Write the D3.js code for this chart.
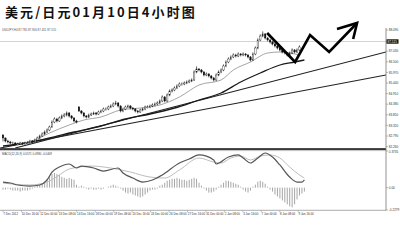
<!DOCTYPE html>
<html><head><meta charset="utf-8">
<script src="https://cdn.jsdelivr.net/npm/d3@7"></script>
<style>html,body{margin:0;padding:0;background:#fff;overflow:hidden}</style>
</head><body><svg id="c" width="400" height="246"></svg>
<script>
// ---------- DATA (USD/JPY H4) ----------
const titleText = "美元/日元01月10日4小时图";
const subtitleText = "USDJPY,H4  87.785 87.906 87.451 87.515";
const macdText = "MACD(12,26,9) 0.0571 0.0980 -0.0409";
const currentPrice = 87.515;

const opens = [82.84,82.69,82.54,82.49,82.44,82.44,82.39,82.39,82.44,82.39,
 82.44,82.44,82.54,82.49,82.59,82.69,82.79,82.89,82.99,83.09,
 83.24,83.49,83.64,83.54,83.69,83.79,83.84,83.94,83.79,83.69,
 83.54,84.24,84.04,83.94,83.79,83.74,83.84,83.89,83.94,83.89,
 83.99,84.04,84.14,84.14,84.24,84.29,84.39,84.44,84.29,84.04,
 84.14,84.24,84.29,84.19,84.14,84.04,83.99,84.09,84.14,84.24,
 84.24,84.29,84.34,84.39,84.44,84.54,84.74,84.54,84.84,85.04,
 85.09,85.19,85.29,85.39,85.39,85.44,85.49,85.54,85.59,85.99,
 86.14,86.09,85.99,85.84,85.89,85.79,85.69,85.59,85.84,85.99,
 86.09,86.29,86.49,86.64,86.74,86.84,86.79,86.89,86.84,86.89,
 86.84,86.74,86.59,86.89,87.19,87.59,87.79,87.89,87.69,87.59,
 87.49,87.39,87.29,87.19,87.09,86.99,86.94,86.84,86.94,87.09,
 86.99,87.09];
const closes = [82.69,82.54,82.49,82.44,82.44,82.39,82.39,82.44,82.39,82.44,
 82.44,82.54,82.49,82.59,82.69,82.79,82.89,82.99,83.09,83.24,
 83.49,83.64,83.54,83.69,83.79,83.84,83.94,83.79,83.69,83.54,
 83.49,84.04,83.94,83.79,83.74,83.84,83.89,83.94,83.89,83.99,
 84.04,84.14,84.14,84.24,84.29,84.39,84.44,84.29,84.04,84.14,
 84.24,84.29,84.19,84.14,84.04,83.99,84.09,84.14,84.24,84.24,
 84.29,84.34,84.39,84.44,84.54,84.74,84.54,84.84,85.04,85.09,
 85.19,85.29,85.39,85.39,85.44,85.49,85.54,85.59,85.99,86.14,
 86.09,85.99,85.84,85.89,85.79,85.69,85.59,85.84,85.99,86.09,
 86.29,86.49,86.64,86.74,86.84,86.79,86.89,86.84,86.89,86.84,
 86.74,86.59,86.89,87.19,87.59,87.79,87.89,87.69,87.59,87.49,
 87.39,87.29,87.19,87.09,86.99,86.94,86.84,86.94,87.09,86.99,
 87.09,87.24];
const highs = [82.88,82.72,82.60,82.55,82.51,82.49,82.46,82.50,82.49,82.51,
 82.52,82.60,82.59,82.66,82.76,82.86,82.97,83.07,83.17,83.31,
 83.57,83.72,83.70,83.77,83.87,83.93,84.02,83.99,83.84,83.74,
 83.60,84.29,84.09,83.99,83.84,83.91,83.96,84.01,83.99,84.06,
 84.11,84.21,84.22,84.31,84.37,84.47,84.55,84.49,84.33,84.21,
 84.31,84.36,84.34,84.24,84.19,84.09,84.16,84.21,84.31,84.32,
 84.36,84.42,84.47,84.52,84.62,84.82,84.79,84.92,85.12,85.17,
 85.27,85.37,85.47,85.47,85.52,85.57,85.62,85.67,86.07,86.27,
 86.19,86.14,86.04,85.97,85.94,85.84,85.74,85.92,86.07,86.17,
 86.37,86.57,86.72,86.82,86.92,86.90,86.97,86.94,86.97,86.94,
 86.89,86.79,86.97,87.27,87.67,87.87,88.02,87.94,87.74,87.64,
 87.54,87.44,87.34,87.24,87.14,87.04,86.99,87.01,87.17,87.14,
 87.17,87.32];
const lows = [82.52,82.47,82.42,82.37,82.36,82.32,82.33,82.35,82.33,82.35,
 82.37,82.40,82.42,82.45,82.55,82.64,82.74,82.84,82.93,83.03,
 83.20,83.43,83.47,83.49,83.63,83.72,83.77,83.72,83.62,83.47,
 83.42,83.99,83.87,83.72,83.67,83.69,83.79,83.84,83.82,83.84,
 83.93,83.98,84.06,84.08,84.18,84.23,84.33,84.22,83.97,83.98,
 84.08,84.18,84.12,84.07,83.97,83.92,83.94,84.03,84.08,84.17,
 84.18,84.23,84.28,84.33,84.38,84.48,84.47,84.49,84.78,84.97,
 85.03,85.13,85.23,85.31,85.33,85.38,85.43,85.48,85.54,85.93,
 86.02,85.92,85.77,85.78,85.72,85.62,85.52,85.54,85.78,85.93,
 86.03,86.23,86.43,86.58,86.68,86.72,86.73,86.77,86.78,86.77,
 86.67,86.52,86.54,86.83,87.13,87.53,87.73,87.62,87.52,87.42,
 87.32,87.22,87.12,87.02,86.92,86.87,86.77,86.78,86.88,86.92,
 86.93,87.03];

// moving averages read at bar positions
const maFastIdx = [7,13,19,27,33,40,48,56,64,72,80,89,94,101,108,113,117,121];
const maFastVal = [82.39,82.59,82.94,83.34,83.59,83.74,84.09,84.19,84.34,84.74,85.34,85.59,86.09,86.49,86.94,86.99,86.94,86.84];
const maSlowIdx = [0,9,19,29,40,50,60,70,80,89,97,105,113,119,123];
const maSlowVal = [82.29,82.44,82.69,82.99,83.29,83.64,83.89,84.19,84.59,84.94,85.49,85.94,86.34,86.49,86.59];

// trend lines [barIndex, price]
const trendUpper = [[5,82.19],[156.3,86.99]];
const trendLower = [[-1.2,82.19],[156.3,85.84]];

// hand-drawn forecast zigzag [barIndex, price]
const zigzag = [[107.8,87.94],[119.2,86.49],[125.3,87.84],[133.1,86.99],[144.5,88.44]];
const arrowHead = [[136.3,88.14],[144.5,88.44],[142.9,87.64]];

// MACD
const macdIdx = [0,3,6,11,15,18,20,23,27,30,32,37,41,47,49,53,57,61,65,72,76,80,86,87,92,96,98,101,104,107,110,113,117,120,122,123];
const macdVal = [0.057,0.047,0.027,0.016,0.027,0.078,0.159,0.210,0.241,0.200,0.220,0.200,0.169,0.200,0.149,0.098,0.057,0.078,0.129,0.251,0.292,0.333,0.282,0.241,0.312,0.333,0.302,0.251,0.302,0.353,0.312,0.231,0.108,0.057,0.057,0.078];
const signalIdx = [0,11,18,23,27,36,44,52,60,66,72,80,86,89,93,97,101,105,109,113,117,121,123];
const signalVal = [0.047,0.027,0.057,0.129,0.190,0.220,0.200,0.159,0.108,0.098,0.180,0.302,0.261,0.251,0.302,0.322,0.282,0.322,0.333,0.302,0.210,0.129,0.098];
const histVal = [-0.02,-0.02,-0.01,-0.02,-0.03,-0.03,-0.03,-0.04,-0.03,-0.03,
 -0.03,-0.02,-0.01,0.01,0.02,0.03,0.04,0.06,0.09,0.12,
 0.14,0.15,0.14,0.13,0.11,0.10,0.09,0.10,0.09,0.08,
 0.03,0.01,0.02,0.01,-0.01,-0.02,-0.01,-0.02,-0.02,-0.01,
 -0.02,-0.01,0.00,0.01,0.02,0.03,0.02,0.01,-0.01,-0.03,
 -0.05,-0.06,-0.05,-0.07,-0.08,-0.09,-0.10,-0.09,-0.07,-0.05,
 -0.03,-0.02,-0.02,-0.01,0.02,0.03,0.05,0.07,0.08,0.09,
 0.09,0.10,0.09,0.08,0.08,0.07,0.08,0.09,0.10,0.09,
 0.05,0.02,-0.01,-0.03,-0.05,-0.05,-0.04,-0.02,0.01,0.03,
 0.05,0.07,0.07,0.06,0.05,0.04,0.03,0.01,-0.02,-0.04,
 -0.05,-0.03,0.01,0.03,0.06,0.07,0.06,0.04,0.01,-0.02,
 -0.04,-0.07,-0.09,-0.11,-0.13,-0.15,-0.17,-0.19,-0.20,-0.17,
 -0.12,-0.08,-0.06,-0.04];

// axis labels
const priceTicks = [88.090,87.560,87.030,86.500,85.970,85.440,84.910,84.380,83.850,83.320,82.790,82.260];
const macdTicks = [0.3735,0,-0.2279];
const macdTickLabels = ["0.3735","0.00","-0.2279"];
const timeLabels = ["7 Dec 2012","10 Dec 16:00","12 Dec 00:00","13 Dec 08:00","14 Dec 16:00","18 Dec 00:00","19 Dec 08:00","20 Dec 16:00","24 Dec 00:00","26 Dec 08:00","27 Dec 16:00","31 Dec 00:00","2 Jan 08:00","3 Jan 16:00","7 Jan 00:00","8 Jan 08:00","9 Jan 16:00"];
const barsPerLabel = 7.53;

// ---------- DRAW ----------
const svg = d3.select("#c");
const axisX = 386;
const x = d3.scaleLinear().domain([0,121]).range([3,299.5]);
const y = d3.scaleLinear().domain([82.19,88.19]).range([148,28]);
const ym = d3.scaleLinear().domain([-0.2279,0.3735]).range([210,151]);
const tinyFont = "Liberation Sans, Arial, sans-serif";

svg.append("text").attr("x",5).attr("y",16.5)
  .attr("font-family","Noto Sans CJK SC, sans-serif").attr("font-size",13)
  .attr("font-weight",700).attr("letter-spacing",2.1).attr("fill","#111")
  .text(titleText);
svg.append("text").attr("x",2).attr("y",31.3).attr("font-family",tinyFont)
  .attr("font-size",2.9).attr("fill","#555").text(subtitleText);

const main = svg.append("g");
main.append("clipPath").attr("id","mc").append("rect").attr("x",0).attr("y",0).attr("width",axisX).attr("height",148);

// current price line
main.append("line").attr("x1",0).attr("x2",axisX).attr("y1",y(currentPrice)).attr("y2",y(currentPrice))
  .attr("stroke","#c8c8c8").attr("stroke-width",0.8);

const pl = d3.line().x(d=>x(d[0])).y(d=>y(d[1]));
const clipped = main.append("g").attr("clip-path","url(#mc)");
[trendUpper,trendLower].forEach(t=>{
  clipped.append("path").attr("d",pl(t)).attr("fill","none").attr("stroke","#222").attr("stroke-width",1.1);
});
const maLine = d3.line().x(d=>x(d[0])).y(d=>y(d[1])).curve(d3.curveMonotoneX);
clipped.append("path").attr("d",maLine(maSlowIdx.map((d,i)=>[d,maSlowVal[i]])))
  .attr("fill","none").attr("stroke","#1a1a1a").attr("stroke-width",1.3);
clipped.append("path").attr("d",maLine(maFastIdx.map((d,i)=>[d,maFastVal[i]])))
  .attr("fill","none").attr("stroke","#9a9a9a").attr("stroke-width",0.9);

// candles
const bars = closes.map((c,i)=>({i,o:opens[i],h:highs[i],l:lows[i],c}));
const cg = main.append("g");
cg.selectAll("line.w").data(bars).join("line").attr("class","w")
  .attr("x1",d=>x(d.i)).attr("x2",d=>x(d.i)).attr("y1",d=>y(d.h)).attr("y2",d=>y(d.l))
  .attr("stroke","#222").attr("stroke-width",0.7);
cg.selectAll("rect").data(bars).join("rect")
  .attr("x",d=>x(d.i)-0.75).attr("width",1.5)
  .attr("y",d=>y(Math.max(d.o,d.c)))
  .attr("height",d=>Math.max(0.6,Math.abs(y(d.o)-y(d.c))))
  .attr("fill",d=>d.c>=d.o?"#fff":"#111").attr("stroke","#111").attr("stroke-width",0.35);

// zigzag forecast
main.append("path").attr("d",pl(zigzag)).attr("fill","none").attr("stroke","#000")
  .attr("stroke-width",2.6).attr("stroke-linejoin","miter");
main.append("path").attr("d",pl(arrowHead)).attr("fill","none").attr("stroke","#000")
  .attr("stroke-width",2.6).attr("stroke-linejoin","miter").attr("stroke-linecap","butt");

// separator
svg.append("rect").attr("x",0).attr("y",148.2).attr("width",axisX).attr("height",1.7).attr("fill","#222");
svg.append("line").attr("x1",0).attr("x2",axisX).attr("y1",150.6).attr("y2",150.6).attr("stroke","#999").attr("stroke-width",0.6);

// right axis
svg.append("line").attr("x1",axisX).attr("x2",axisX).attr("y1",28).attr("y2",210.5).attr("stroke","#777").attr("stroke-width",0.8);
const shown = priceTicks.filter(t=>Math.abs(y(t)-y(currentPrice))>2.5);
const pa = svg.append("g");
pa.selectAll("line").data(shown).join("line").attr("x1",axisX).attr("x2",axisX+2)
  .attr("y1",d=>y(d)).attr("y2",d=>y(d)).attr("stroke","#777").attr("stroke-width",0.5);
pa.selectAll("text").data(shown).join("text").attr("x",axisX+2.8).attr("y",d=>y(d)+1.1)
  .attr("font-family",tinyFont).attr("font-size",3.1).attr("fill","#333").text(d=>d.toFixed(3));
svg.append("rect").attr("x",axisX+0.5).attr("y",y(currentPrice)-2.2).attr("width",12).attr("height",4.4).attr("fill","#111");
svg.append("text").attr("x",axisX+1.5).attr("y",y(currentPrice)+1.1).attr("font-family",tinyFont)
  .attr("font-size",3.1).attr("fill","#fff").text(currentPrice.toFixed(3));

// MACD panel
svg.append("text").attr("x",2).attr("y",154.6).attr("font-family",tinyFont)
  .attr("font-size",2.9).attr("fill","#444").text(macdText);
const hg = svg.append("g");
hg.selectAll("line").data(histVal).join("line")
  .attr("x1",(d,i)=>x(i)).attr("x2",(d,i)=>x(i)).attr("y1",ym(0)).attr("y2",d=>ym(d))
  .attr("stroke","#9c9c9c").attr("stroke-width",0.9);
const ml = d3.line().x(d=>x(d[0])).y(d=>ym(d[1])).curve(d3.curveMonotoneX);
svg.append("path").attr("d",ml(signalIdx.map((d,i)=>[d,signalVal[i]])))
  .attr("fill","none").attr("stroke","#bdbdbd").attr("stroke-width",1);
svg.append("path").attr("d",ml(macdIdx.map((d,i)=>[d,macdVal[i]])))
  .attr("fill","none").attr("stroke","#555").attr("stroke-width",1.2);
const ma = svg.append("g");
ma.selectAll("line").data(macdTicks).join("line").attr("x1",axisX).attr("x2",axisX+2)
  .attr("y1",d=>ym(d)).attr("y2",d=>ym(d)).attr("stroke","#777").attr("stroke-width",0.5);
ma.selectAll("text").data(macdTicks).join("text").attr("x",axisX+2.8).attr("y",(d,i)=>ym(d)+(i===0?2:i===2?0.5:1.1))
  .attr("font-family",tinyFont).attr("font-size",3.1).attr("fill","#333").text((d,i)=>macdTickLabels[i]);

// bottom time axis
svg.append("line").attr("x1",0).attr("x2",axisX).attr("y1",210.3).attr("y2",210.3).attr("stroke","#888").attr("stroke-width",0.7);
const ta = svg.append("g");
ta.selectAll("line").data(timeLabels).join("line")
  .attr("x1",(d,k)=>x(k*barsPerLabel)).attr("x2",(d,k)=>x(k*barsPerLabel))
  .attr("y1",210.3).attr("y2",212.3).attr("stroke","#888").attr("stroke-width",0.5);
ta.selectAll("text").data(timeLabels).join("text")
  .attr("x",(d,k)=>x(k*barsPerLabel)+0.3).attr("y",214.6)
  .attr("font-family",tinyFont).attr("font-size",2.9).attr("fill","#333").text(d=>d);
</script></body></html>
